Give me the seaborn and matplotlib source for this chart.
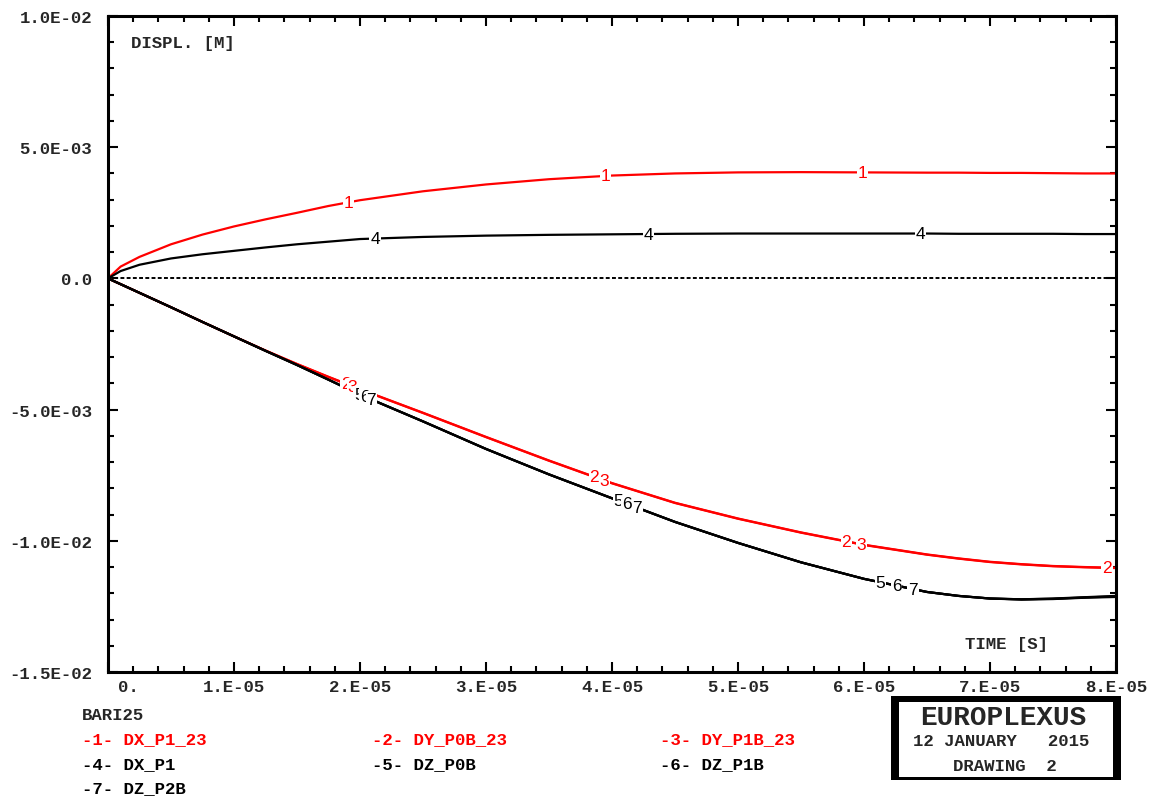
import numpy as np
import pandas as pd
import matplotlib
matplotlib.use("Agg")
import matplotlib.pyplot as plt
import matplotlib.patches as mpatches
from matplotlib.ticker import MultipleLocator, FixedLocator
import matplotlib.transforms as mtransforms
import seaborn as sns

# ---- data (time in 1e-5 s, displacement in 1e-3 m) ----
time_1e5 = [0, 0.1, 0.25, 0.5, 0.75, 1.0, 1.25, 1.5, 1.75, 2.0, 2.5, 3.0, 3.5, 4.0,
            4.5, 5.0, 5.5, 6.0, 6.5, 6.75, 7.0, 7.25, 7.5, 7.75, 8.0]

dx_p1_23 = [0, 0.45, 0.82, 1.30, 1.67, 1.98, 2.25, 2.50, 2.76, 2.98, 3.32, 3.58, 3.78, 3.92,
            4.00, 4.04, 4.05, 4.04, 4.03, 4.03, 4.02, 4.02, 4.01, 4.00, 4.00]
dy_p0b_23 = [0, -0.22, -0.55, -1.10, -1.66, -2.21, -2.75, -3.26, -3.75, -4.22, -5.12, -6.04, -6.94, -7.80,
             -8.55, -9.15, -9.68, -10.15, -10.52, -10.67, -10.80, -10.89, -10.96, -11.00, -11.03]
dy_p1b_23 = [0, -0.22, -0.55, -1.10, -1.66, -2.21, -2.75, -3.27, -3.76, -4.23, -5.13, -6.05, -6.95, -7.81,
             -8.56, -9.16, -9.69, -10.16, -10.53, -10.68, -10.81, -10.90, -10.97, -11.01, -11.04]
dx_p1 = [0, 0.28, 0.52, 0.76, 0.92, 1.05, 1.18, 1.30, 1.40, 1.50, 1.58, 1.63, 1.66, 1.68,
         1.70, 1.71, 1.71, 1.71, 1.71, 1.70, 1.70, 1.70, 1.70, 1.69, 1.69]
dz_p0b = [0, -0.22, -0.55, -1.10, -1.66, -2.21, -2.76, -3.30, -3.86, -4.43, -5.45, -6.50, -7.47, -8.38,
          -9.28, -10.08, -10.82, -11.45, -11.95, -12.10, -12.20, -12.23, -12.20, -12.15, -12.10]
dz_p1b = [0, -0.22, -0.55, -1.10, -1.66, -2.21, -2.76, -3.30, -3.86, -4.43, -5.45, -6.50, -7.47, -8.38,
          -9.28, -10.08, -10.82, -11.45, -11.95, -12.10, -12.20, -12.23, -12.21, -12.16, -12.12]
dz_p2b = [0, -0.22, -0.55, -1.10, -1.66, -2.21, -2.76, -3.30, -3.86, -4.43, -5.45, -6.50, -7.47, -8.38,
          -9.28, -10.08, -10.82, -11.45, -11.95, -12.10, -12.20, -12.24, -12.22, -12.17, -12.14]

curve_ids = ["1", "2", "3", "4", "5", "6", "7"]
curve_names = ["DX_P1_23", "DY_P0B_23", "DY_P1B_23", "DX_P1", "DZ_P0B", "DZ_P1B", "DZ_P2B"]
curve_values = [dx_p1_23, dy_p0b_23, dy_p1b_23, dx_p1, dz_p0b, dz_p1b, dz_p2b]
curve_colors = ["#ff0000", "#ff0000", "#ff0000", "#000000", "#000000", "#000000", "#000000"]

# positions (in 1e-5 s) of the curve number markers
marker_times = {
    "1": [1.91, 3.95, 5.99],
    "2": [1.89, 3.86, 5.86, 7.93],
    "3": [1.94, 3.94, 5.98],
    "4": [2.12, 4.29, 6.45],
    "5": [1.99, 4.05, 6.13],
    "6": [2.04, 4.12, 6.26],
    "7": [2.09, 4.20, 6.39],
}

x_ticks = [0, 1e-5, 2e-5, 3e-5, 4e-5, 5e-5, 6e-5, 7e-5, 8e-5]
x_tick_labels = ["0.", "1.E-05", "2.E-05", "3.E-05", "4.E-05", "5.E-05", "6.E-05", "7.E-05", "8.E-05"]
y_ticks = [-1.5e-2, -1.0e-2, -5.0e-3, 0.0, 5.0e-3, 1.0e-2]
y_tick_labels = ["-1.5E-02", "-1.0E-02", "-5.0E-03", "0.0", "5.0E-03", "1.0E-02"]

# ---- long table for seaborn ----
t = np.array(time_1e5) * 1e-5
frames = []
for cid, vals in zip(curve_ids, curve_values):
    frames.append(pd.DataFrame({"time": t, "displ": np.array(vals) * 1e-3, "curve": cid}))
df = pd.concat(frames, ignore_index=True)

sns.set_style("white")
mono = ["Liberation Mono", "DejaVu Sans Mono"]
plt.rcParams["font.family"] = mono
plt.rcParams["font.weight"] = "bold"

W, H = 1156, 803
fig = plt.figure(figsize=(W / 100, H / 100), dpi=100)
ax = fig.add_axes([108 / W, 1 - 673 / H, (1116 - 108) / W, (673 - 17) / H])

ax.axhline(0, color="black", lw=1.4, ls=(0, (2.0, 1.2)), zorder=1)

palette = dict(zip(curve_ids, curve_colors))
sns.lineplot(data=df, x="time", y="displ", hue="curve", hue_order=curve_ids,
             palette=palette, linewidth=1.6, legend=False, ax=ax, zorder=2,
             estimator=None, sort=False)

# curve number markers along the lines
for cid, vals in zip(curve_ids, curve_values):
    col = palette[cid]
    for tm in marker_times[cid]:
        yv = np.interp(tm, time_1e5, vals) * 1e-3
        ax.text(tm * 1e-5, yv, cid, color=col, fontsize=12.5, family=["Liberation Sans"],
                fontweight="normal", ha="center", va="center", zorder=5,
                bbox=dict(boxstyle="square,pad=0.05", fc="white", ec="none"))

ax.set_xlim(0, 8e-5)
ax.set_ylim(-1.5e-2, 1.0e-2)
ax.xaxis.set_major_locator(FixedLocator(x_ticks))
ax.xaxis.set_minor_locator(MultipleLocator(2e-6))
ax.yaxis.set_major_locator(FixedLocator(y_ticks))
ax.yaxis.set_minor_locator(MultipleLocator(1e-3))
ax.set_xticklabels(x_tick_labels)
ax.set_yticklabels(y_tick_labels)
ax.set_xlabel("")
ax.set_ylabel("")

ax.tick_params(which="both", direction="in", top=True, right=True, bottom=True, left=True,
               width=1.5, color="black")
ax.tick_params(which="major", length=7.2)
ax.tick_params(which="minor", length=4.3)
ax.tick_params(axis="y", which="major", pad=11.5, labelsize=12.5)
ax.tick_params(axis="x", which="major", pad=5, labelsize=12.5)
for lab in ax.get_xticklabels() + ax.get_yticklabels():
    lab.set_fontweight("bold")
# the origin label sits a little to the right of its tick
first = ax.get_xticklabels()[0]
first.set_transform(first.get_transform() + mtransforms.ScaledTranslation(20 / 100, 0, fig.dpi_scale_trans))

for sp in ax.spines.values():
    sp.set_visible(True)
    sp.set_linewidth(2.2)
    sp.set_color("black")

ax.text(0.0228, 0.960, "DISPL. [M]", transform=ax.transAxes, fontsize=12.5,
        fontweight="bold", ha="left", va="center")
ax.text(0.9325, 0.0427, "TIME [S]", transform=ax.transAxes, fontsize=12.5,
        fontweight="bold", ha="right", va="center")

# ---- curve list below the plot ----
def fx(px):
    return px / W


def fy(py):
    return 1 - py / H


fig.text(fx(82), fy(716), "BARI25", fontsize=12.5, fontweight="bold", ha="left", va="center")
col_x = [82, 372, 660]
row_y = [740, 765, 789]
for i, (cid, name, col) in enumerate(zip(curve_ids, curve_names, curve_colors)):
    if i < 3:
        r, c = 0, i
    else:
        r, c = 1 + (i - 3) // 3, (i - 3) % 3
    fig.text(fx(col_x[c]), fy(row_y[r]), f"-{cid}- {name}", color=col, fontsize=12.5,
             fontweight="bold", ha="left", va="center")

# ---- title block ----
fig.add_artist(mpatches.Rectangle((fx(891), fy(781)), (1121 - 891) / W, (781 - 697) / H,
                                  transform=fig.transFigure, fc="black", ec="none"))
fig.add_artist(mpatches.Rectangle((fx(899), fy(778)), (1113 - 899) / W, (778 - 703) / H,
                                  transform=fig.transFigure, fc="white", ec="none"))
fig.text(fx(1003), fy(718), "EUROPLEXUS", fontsize=20, fontweight="bold", ha="center", va="center")
fig.text(fx(1001), fy(742), "12 JANUARY   2015", fontsize=12.5, fontweight="bold", ha="center", va="center")
fig.text(fx(1005), fy(767), "DRAWING  2", fontsize=12.5, fontweight="bold", ha="center", va="center")

fig.savefig("out.png", dpi=100, facecolor="white")
